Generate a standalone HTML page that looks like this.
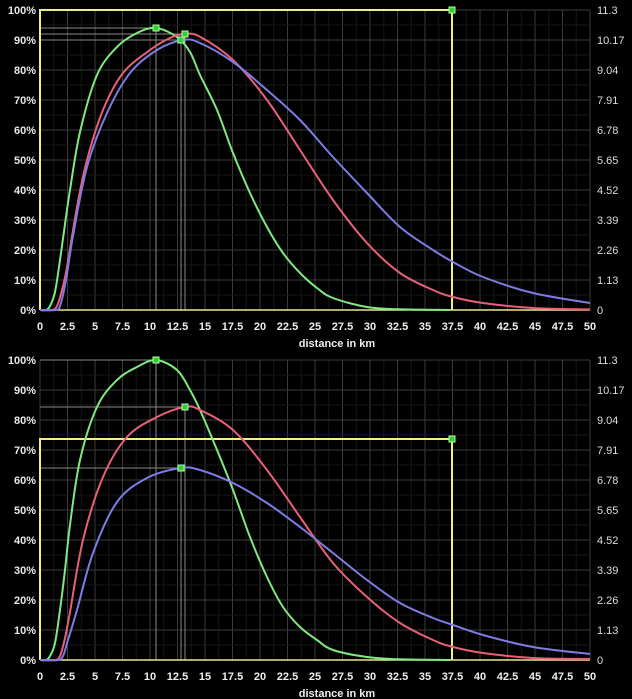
<!DOCTYPE html>
<html><head><meta charset="utf-8"><style>
html,body{margin:0;padding:0;background:#000;}
svg{display:block;}
text{font-family:"Liberation Sans",sans-serif;font-size:11px;}
.l{fill:#e8e8e8;font-weight:bold;text-anchor:end;}
.r{fill:#ddd;text-anchor:start;}
.x{fill:#eee;font-weight:bold;text-anchor:middle;}
</style></head><body>
<svg id="s" width="632" height="699" xmlns="http://www.w3.org/2000/svg">
<rect width="632" height="699" fill="#000"/>
<g id="g"></g>
</svg>
<script>
const NS="http://www.w3.org/2000/svg",g=document.getElementById('g');
function el(t,a,txt){const e=document.createElementNS(NS,t);for(const k in a)e.setAttribute(k,a[k]);if(txt!==undefined)e.textContent=txt;g.appendChild(e);return e;}
function cr(p){let d="M"+p[0][0]+","+p[0][1];for(let i=0;i<p.length-1;i++){const p0=p[Math.max(0,i-1)],p1=p[i],p2=p[i+1],p3=p[Math.min(p.length-1,i+2)];
d+=" C"+(p1[0]+(p2[0]-p0[0])/6)+","+(p1[1]+(p2[1]-p0[1])/6)+" "+(p2[0]-(p3[0]-p1[0])/6)+","+(p2[1]-(p3[1]-p1[1])/6)+" "+p2[0]+","+p2[1];}return d;}
const rl=["11.3","10.17","9.04","7.91","6.78","5.65","4.52","3.39","2.26","1.13","0"];
function panel(T){const B=T+300;
 for(let i=0;i<=20;i++){const x=40+i*27.5;el('line',{x1:x,y1:T,x2:x,y2:B,stroke:'#3a3a3a','stroke-width':1});
  const x2=x+13.75;if(i<20)el('line',{x1:x2,y1:T,x2:x2,y2:B,stroke:'#161616','stroke-width':1});}
 for(let j=0;j<=10;j++){const y=T+j*30;el('line',{x1:40,y1:y,x2:590,y2:y,stroke:'#3a3a3a','stroke-width':1});
  if(j<10)el('line',{x1:40,y1:y+15,x2:590,y2:y+15,stroke:'#161616','stroke-width':1});
  el('text',{x:36,y:y+4,class:'l'},(100-j*10)+'%');el('text',{x:597,y:y+4,class:'r'},rl[j]);}
 for(let i=0;i<=20;i++){el('text',{x:40+i*27.5,y:B+20,class:'x'},String(i*2.5));}
 el('text',{x:337,y:B+37,class:'x'},'distance in km');
}
panel(10);panel(360);
function mk(x,y,T){el('line',{x1:40,y1:y,x2:x,y2:y,stroke:'#888','stroke-width':1});el('line',{x1:x,y1:y,x2:x,y2:T+300,stroke:'#888','stroke-width':1});}
function sq(x,y){el('rect',{x:x-3,y:y-3,width:6,height:6,fill:'#3c3','stroke':'#afa','stroke-width':1});}
mk(156,28,10);mk(185,34,10);mk(181,40,10);
mk(156,360,360);mk(185,407,360);mk(181,468,360);
el('polyline',{points:"40,310 40,10 452,10 452,310",fill:'none',stroke:'#f0f080','stroke-width':2});
el('line',{x1:40,y1:310,x2:590,y2:310,stroke:'#e8e890','stroke-width':1.5});
el('polyline',{points:"40,660 40,439 452,439 452,660",fill:'none',stroke:'#f0f080','stroke-width':2});
el('line',{x1:40,y1:660,x2:590,y2:660,stroke:'#e8e890','stroke-width':1.5});
const G="#80e880",R="#e86078",Bl="#7e7ce4";
function c(p,col){el('path',{d:cr(p),fill:'none',stroke:col,'stroke-width':2});}
c([[40,310],[46,310],[50,306],[55,292],[60,260],[65,224],[70,190],[80,132],[97,75],[117,47],[137,33],[156,28],[177,37],[190,52],[200,75],[217,110],[233,153],[250,193],[267,227],[283,253],[300,273],[317,288],[333,298],[367,307],[400,309.3],[450,310]],G);
c([[40,310],[52,310],[57,306],[62,290],[67,267],[77,207],[87,160],[103,110],[123,73],[150,50],[170,38],[185,34],[200,36.7],[233,60],[267,100],[300,150],[333,200],[367,243],[400,273],[433,290],[453,297],[483,303],[533,308],[590,309.5]],R);
c([[40,310],[55,310],[60,306],[66,280],[73,236],[87,167],[107,113],[130,73],[157,50],[183,40],[200,43],[233,62],[267,90],[300,120],[333,157],[367,193],[400,227],[433,250],[453,262],[483,277],[533,293],[590,303]],Bl);
c([[40,660],[46,660],[50,656],[55,643],[60,610],[65,570],[70,525],[80,460],[97,407],[117,380],[137,367],[156,360],[177,370],[190,390],[200,410],[217,450],[233,490],[250,537],[267,577],[283,607],[300,627],[317,640],[333,650],[367,657],[400,659.3],[450,660]],G);
c([[40,660],[55,660],[60,656],[65,638],[70,612],[83,540],[103,477],[127,437],[157,417],[185,407],[200,410],[233,430],[267,470],[300,517],[333,563],[367,597],[400,623],[433,640],[453,647],[483,653],[533,658],[590,659]],R);
c([[40,660],[58,660],[63,656],[68,640],[77,610],[93,553],[117,502],[147,478],[181,468],[200,470],[233,483],[267,503],[300,527],[333,553],[367,580],[400,603],[433,618],[453,625],[483,635],[533,647],[590,654]],Bl);
sq(156,28);sq(185,34);sq(181,40);sq(452,10);
sq(156,360);sq(185,407);sq(181,468);sq(452,439);
</script>
</body></html>
